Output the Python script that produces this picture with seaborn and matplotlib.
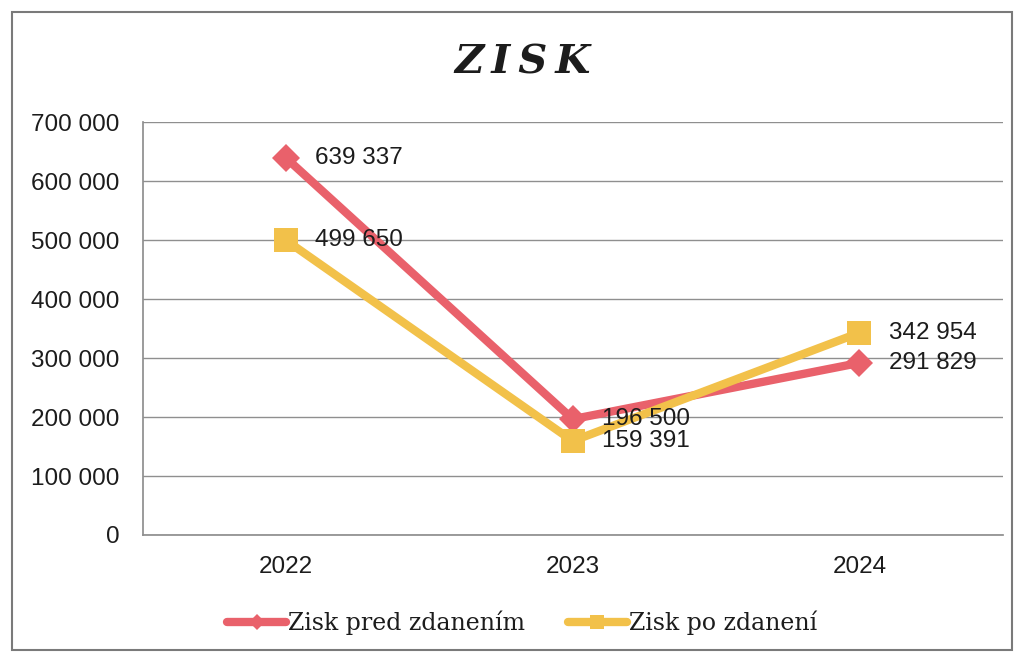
import matplotlib
matplotlib.use("Agg")
import matplotlib.pyplot as plt
import seaborn as sns
import pandas as pd
from matplotlib.patches import Rectangle
from matplotlib.ticker import FuncFormatter

years = ["2022", "2023", "2024"]
series_names = ["Zisk pred zdanením", "Zisk po zdanení"]
zisk_pred = [639337, 196500, 291829]
zisk_po = [499650, 159391, 342954]
y_ticks = [0, 100000, 200000, 300000, 400000, 500000, 600000, 700000]

sns.set_theme(style="white")
plt.rcParams['font.family'] = ['Liberation Sans', 'DejaVu Sans']

SERIF = ['DejaVu Serif', 'DejaVu Sans']
TXT = "#1c1c1c"

df = pd.DataFrame({
    "rok": years * 2,
    "hodnota": zisk_pred + zisk_po,
    "serie": [series_names[0]] * 3 + [series_names[1]] * 3,
})

fig = plt.figure(figsize=(10.2, 6.54), dpi=100)
ax = fig.add_axes([0.140, 0.182, 0.843, 0.631])

colors = {series_names[0]: "#E9616B", series_names[1]: "#F2C14A"}
markers = {series_names[0]: "D", series_names[1]: "s"}
msize = {series_names[0]: 14, series_names[1]: 17}

for name in series_names:
    sub = df[df["serie"] == name]
    sns.lineplot(data=sub, x="rok", y="hodnota", ax=ax, color=colors[name],
                 linewidth=6, marker=markers[name], markersize=msize[name],
                 markeredgewidth=0, label=name, sort=False, zorder=3)

# data labels
for name, vals in zip(series_names, [zisk_pred, zisk_po]):
    for i, v in enumerate(vals):
        txt = f"{v:,}".replace(",", " ")
        ax.annotate(txt, (i, v), xytext=(21, 0), textcoords="offset points",
                    ha="left", va="center", fontsize=17.5, color=TXT, zorder=4)

ax.set_xlim(-0.5, 2.5)
ax.set_ylim(0, 700000)
ax.set_yticks(y_ticks)
ax.yaxis.set_major_formatter(FuncFormatter(lambda v, p: f"{int(v):,}".replace(",", " ")))
ax.grid(axis="y", color="#8f8f8f", linewidth=1.0)
ax.grid(axis="x", visible=False)
ax.set_xlabel("")
ax.set_ylabel("")
for s in ["top", "right"]:
    ax.spines[s].set_visible(False)
ax.spines["left"].set_color("#8f8f8f")
ax.spines["bottom"].set_color("#8f8f8f")
ax.tick_params(axis="y", labelsize=17.5, pad=17, length=0)
ax.tick_params(axis="x", labelsize=17.5, pad=15, length=0)
for lab in ax.get_yticklabels() + ax.get_xticklabels():
    lab.set_color(TXT)

ax.legend_.remove()
handles, labels = ax.get_legend_handles_labels()
fig.legend(handles, labels, loc="center", bbox_to_anchor=(0.512, 0.048), ncol=2,
           frameon=False, prop={"family": SERIF, "size": 17},
           handlelength=2.5, handletextpad=0.1,
           columnspacing=1.8, markerscale=0.6, labelcolor=TXT)

fig.text(0.512, 0.905, "Z\u2009I\u2009S\u2009K", ha="center", va="center",
         fontsize=29, fontweight="bold", fontstyle="italic", color=TXT, family=SERIF)

fig.patches.append(Rectangle((0.012, 0.006), 0.98, 0.976, transform=fig.transFigure,
                             fill=False, edgecolor="#7a7a7a", linewidth=1.5))

fig.savefig("out.png", dpi=100)
